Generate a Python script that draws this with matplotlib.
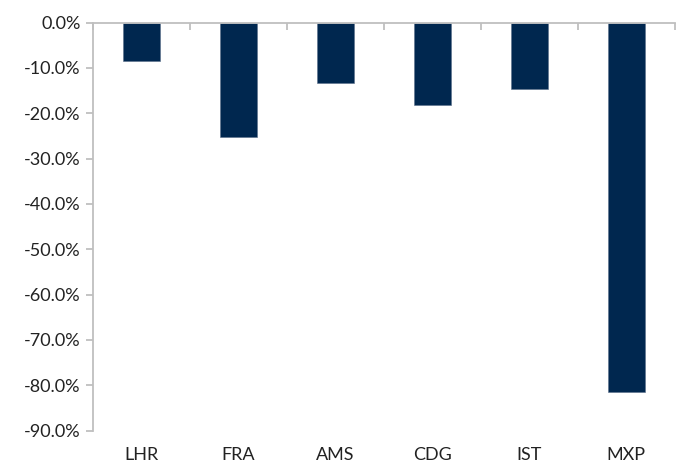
import matplotlib
matplotlib.use("Agg")
import matplotlib.pyplot as plt
from matplotlib.ticker import FuncFormatter, FixedLocator
import matplotlib.transforms as mtransforms

airports = ["LHR", "FRA", "AMS", "CDG", "IST", "MXP"]
change_pct = [-8.5, -25.2, -13.3, -18.2, -14.7, -81.5]

plt.rcParams["font.family"] = ["Lato", "DejaVu Sans"]

fig = plt.figure(figsize=(6.9, 4.65), dpi=100)
ax = fig.add_axes([0.1348, 0.0738, 0.978 - 0.1348, 0.9516 - 0.0738])

x = list(range(len(airports)))
ax.bar(x, change_pct, width=0.38, color="#00274F", edgecolor="#5a6f8a", linewidth=0.4)

ax.set_xlim(-0.5, len(airports) - 0.5)
ax.set_ylim(-90, 0)
ax.set_yticks(range(-90, 1, 10))
ax.yaxis.set_major_formatter(FuncFormatter(lambda v, p: f"{v:.1f}%"))

axis_grey = "#BFBFBF"
for side in ("right", "bottom"):
    ax.spines[side].set_visible(False)
for side in ("left", "top"):
    ax.spines[side].set_color(axis_grey)
    ax.spines[side].set_linewidth(1.3)

ax.tick_params(axis="y", length=5, width=1.3, color=axis_grey, labelsize=13,
               labelcolor="#222222", pad=4)

# category boundary ticks along the zero line, labels placed beneath the plot
ax.xaxis.set_ticks_position("top")
ax.xaxis.set_major_locator(FixedLocator([i - 0.5 for i in range(len(airports) + 1)]))
ax.tick_params(axis="x", direction="in", length=5, width=1.3, color=axis_grey,
               labeltop=False, labelbottom=False)

trans = mtransforms.blended_transform_factory(ax.transData, ax.transAxes)
for i, name in enumerate(airports):
    ax.text(i, -0.0595, name, transform=trans, ha="center", va="center",
            fontsize=13, color="#222222")

fig.savefig("out.png", dpi=100)
